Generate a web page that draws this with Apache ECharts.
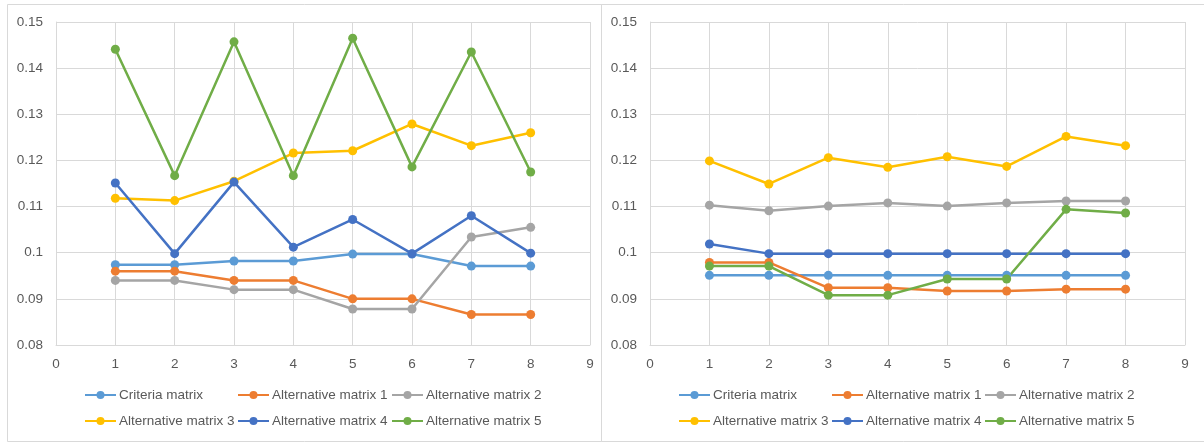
<!DOCTYPE html>
<html>
<head>
<meta charset="utf-8">
<script src="https://cdn.jsdelivr.net/npm/echarts@6/dist/echarts.min.js"></script>
<style>
html,body{margin:0;padding:0;background:#fff;}
#c{width:1204px;height:442px;}
</style>
</head>
<body>
<div id="c"></div>
<script>
// ---- data ----
var xValues = [1, 2, 3, 4, 5, 6, 7, 8];
var seriesNames = ['Criteria matrix', 'Alternative matrix 1', 'Alternative matrix 2',
                   'Alternative matrix 3', 'Alternative matrix 4', 'Alternative matrix 5'];
var yTicks = [0.08, 0.09, 0.1, 0.11, 0.12, 0.13, 0.14, 0.15];
var xTicks = [0, 1, 2, 3, 4, 5, 6, 7, 8, 9];

var leftCriteria = [0.0974, 0.0974, 0.0982, 0.0982, 0.0997, 0.0997, 0.0971, 0.0971];
var leftAlt1 = [0.0960, 0.0960, 0.0940, 0.0940, 0.0900, 0.0900, 0.0866, 0.0866];
var leftAlt2 = [0.0940, 0.0940, 0.0920, 0.0920, 0.0878, 0.0878, 0.1034, 0.1055];
var leftAlt3 = [0.1118, 0.1113, 0.1155, 0.1216, 0.1221, 0.1279, 0.1232, 0.1260];
var leftAlt4 = [0.1151, 0.0998, 0.1153, 0.1012, 0.1072, 0.0998, 0.1080, 0.0999];
var leftAlt5 = [0.1441, 0.1167, 0.1457, 0.1167, 0.1465, 0.1186, 0.1435, 0.1175];

var rightCriteria = [0.0951, 0.0951, 0.0951, 0.0951, 0.0951, 0.0951, 0.0951, 0.0951];
var rightAlt1 = [0.0979, 0.0979, 0.0924, 0.0924, 0.0917, 0.0917, 0.0921, 0.0921];
var rightAlt2 = [0.1103, 0.1091, 0.1101, 0.1108, 0.1101, 0.1108, 0.1112, 0.1112];
var rightAlt3 = [0.1199, 0.1149, 0.1206, 0.1185, 0.1208, 0.1187, 0.1252, 0.1232];
var rightAlt4 = [0.1019, 0.0998, 0.0998, 0.0998, 0.0998, 0.0998, 0.0998, 0.0998];
var rightAlt5 = [0.0971, 0.0971, 0.0908, 0.0908, 0.0943, 0.0943, 0.1094, 0.1086];

var leftData = [leftCriteria, leftAlt1, leftAlt2, leftAlt3, leftAlt4, leftAlt5];
var rightData = [rightCriteria, rightAlt1, rightAlt2, rightAlt3, rightAlt4, rightAlt5];

// ---- style ----
var colors = ['#5B9BD5', '#ED7D31', '#A5A5A5', '#FFC000', '#4472C4', '#70AD47'];
var FONT = 'Liberation Sans';
var TXT = '#595959';
var GRID = '#D9D9D9';

var chart = echarts.init(document.getElementById('c'), null, {renderer: 'canvas'});

var grids = [
  {left: 56, top: 22, width: 534, height: 323},
  {left: 650, top: 22, width: 535, height: 323}
];

function xAxis(i) {
  return {
    type: 'value', gridIndex: i, min: xTicks[0], max: xTicks[xTicks.length - 1], interval: 1,
    axisLine: {show: true, lineStyle: {color: GRID, width: 1}},
    axisTick: {show: false},
    splitLine: {show: true, lineStyle: {color: GRID, width: 1}},
    axisLabel: {color: TXT, fontFamily: FONT, fontSize: 13.5, margin: 12}
  };
}
function yAxis(i) {
  return {
    type: 'value', gridIndex: i, min: yTicks[0], max: yTicks[yTicks.length - 1], interval: 0.01,
    axisLine: {show: true, lineStyle: {color: GRID, width: 1}},
    axisTick: {show: false},
    splitLine: {show: true, lineStyle: {color: GRID, width: 1}},
    axisLabel: {color: TXT, fontFamily: FONT, fontSize: 13.5, margin: 13,
      formatter: function (v) { return String(Math.round(v * 1000) / 1000); }}
  };
}

var series = [];
[leftData, rightData].forEach(function (set, gi) {
  set.forEach(function (vals, si) {
    series.push({
      name: seriesNames[si],
      type: 'line',
      xAxisIndex: gi, yAxisIndex: gi,
      data: xValues.map(function (x, k) { return [x, vals[k]]; }),
      symbol: 'circle', symbolSize: 9,
      showSymbol: true,
      lineStyle: {color: colors[si], width: 2.5},
      itemStyle: {color: colors[si]},
      emphasis: {disabled: true},
      animation: false
    });
  });
});

var legendLeftCols = [[84, 237, 391], [678, 831, 984]];
var legendRowsTop = [388, 414];
var legends = [];
legendLeftCols.forEach(function (cols) {
  seriesNames.forEach(function (n, si) {
    legends.push({
      data: [n],
      left: cols[si % 3],
      top: legendRowsTop[Math.floor(si / 3)],
      padding: 0,
      itemWidth: 31, itemHeight: 10,
      selectedMode: false,
      textStyle: {color: TXT, fontFamily: FONT, fontSize: 13.5, padding: [0, 0, 0, -2]}
    });
  });
});

chart.setOption({
  backgroundColor: '#ffffff',
  animation: false,
  color: colors,
  grid: grids,
  xAxis: [xAxis(0), xAxis(1)],
  yAxis: [yAxis(0), yAxis(1)],
  legend: legends,
  series: series,
  graphic: [
    {type: 'rect', shape: {x: 7.5, y: 4.5, width: 594, height: 437}, style: {fill: 'none', stroke: GRID, lineWidth: 1}, silent: true},
    {type: 'rect', shape: {x: 601.5, y: 4.5, width: 610, height: 437}, style: {fill: 'none', stroke: GRID, lineWidth: 1}, silent: true}
  ]
});
</script>
</body>
</html>
